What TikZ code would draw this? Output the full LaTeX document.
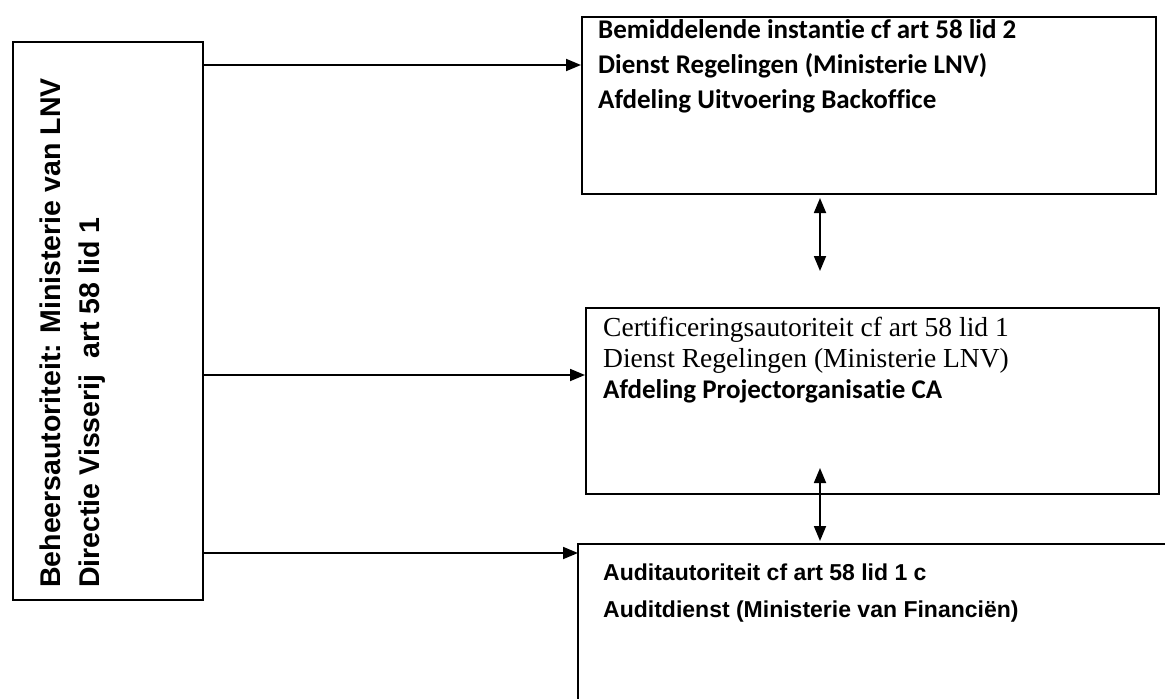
\documentclass[tikz,border=0pt]{standalone}
\usepackage{fontspec}
\setmainfont{Liberation Serif}
\newfontfamily\arialb{Liberation Sans Bold}
\newfontfamily\narrowb{Carlito Bold}[Ligatures=NoCommon]
\usetikzlibrary{arrows.meta}
\begin{document}
\begin{tikzpicture}[x=1pt,y=-1pt,
  boxline/.style={draw=black,line width=1.8pt},
  tip/.tip={Triangle[length=15pt,width=12pt]},
  conn/.style={draw=black,line width=1.8pt,-tip},
  biconn/.style={draw=black,line width=1.8pt,tip-tip},
  txt/.style={anchor=base west,inner sep=0pt,text=black}]
\useasboundingbox[fill=white] (0,0) rectangle (1165,699);
% boxes
\node[boxline,inner sep=0pt,minimum width=190pt,minimum height=558pt,anchor=north west] (ba) at (12,41) {};
\node[boxline,inner sep=0pt,minimum width=574pt,minimum height=177pt,anchor=north west] (bi) at (581,16) {};
\node[boxline,inner sep=0pt,minimum width=573pt,minimum height=186pt,anchor=north west] (ca) at (585,307) {};
\coordinate (aaTL) at (578,544);
\coordinate (aaTR) at (1165,544);
\coordinate (aaBL) at (578,699);
\draw[line width=1.8pt] (aaBL) -- (aaTL) -- (aaTR);
% left rotated text
\node[txt,rotate=90,font=\arialb\fontsize{28.5}{30}\selectfont] (ba1) at (60,588) {Beheersautoriteit: Ministerie van LNV};
\node[txt,rotate=90,font=\arialb\fontsize{28.5}{30}\selectfont] (ba2) at (99,588) {Directie Visserij\ \ art 58 lid 1};
% top box text
\node[txt,font=\narrowb\fontsize{27}{30}\selectfont] (bi1) at (598,38) {Bemiddelende instantie cf art 58 lid 2};
\node[txt,font=\narrowb\fontsize{27}{30}\selectfont] (bi2) at (598,73) {Dienst Regelingen (Ministerie LNV)};
\node[txt,font=\narrowb\fontsize{27}{30}\selectfont] (bi3) at (598,108) {Afdeling Uitvoering Backoffice};
% middle box text
\node[txt,font=\fontsize{27.5}{30}\selectfont] (ca1) at (603,336) {Certificeringsautoriteit cf art 58 lid 1};
\node[txt,font=\fontsize{27.5}{30}\selectfont] (ca2) at (603,367) {Dienst Regelingen (Ministerie LNV)};
\node[txt,font=\narrowb\fontsize{27}{30}\selectfont] (ca3) at (603,398) {Afdeling Projectorganisatie CA};
% bottom box text
\node[txt,font=\arialb\fontsize{23}{30}\selectfont] (aa1) at (603,580) {Auditautoriteit cf art 58 lid 1 c};
\node[txt,font=\arialb\fontsize{23}{30}\selectfont] (aa2) at (603,617) {Auditdienst (Ministerie van Financiën)};
% connectors
\draw[conn] (ba.east |- 0,65) -- (bi.west |- 0,65);
\draw[conn] (ba.east |- 0,375) -- (ca.west |- 0,375);
\draw[conn] (ba.east |- 0,553) -- (aaTL |- 0,553);
\coordinate (v1a) at (820,198);
\coordinate (v1b) at (820,271);
\coordinate (v2a) at (820,468);
\coordinate (v2b) at (820,541);
\draw[biconn] (v1a) -- (v1b);
\draw[biconn] (v2a) -- (v2b);
\end{tikzpicture}
\end{document}
